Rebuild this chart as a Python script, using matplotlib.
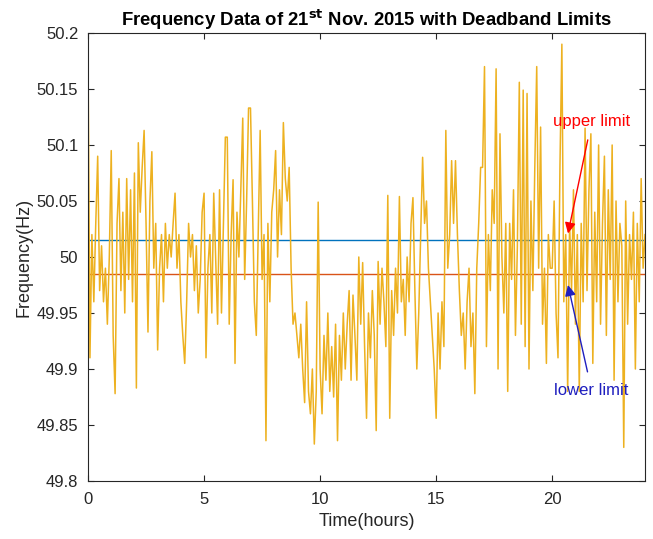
import numpy as np
import matplotlib
matplotlib.use("Agg")
import matplotlib.pyplot as plt

# grid frequency readings, 12 samples per hour
freq_by_hour = [
    [50.18, 49.91, 50.02, 49.96, 50.03, 50.09, 49.97, 50.01, 49.96, 49.99, 49.94, 50.00],
    [50.095, 49.93, 49.878, 50.03, 50.07, 49.97, 50.04, 49.95, 50.07, 49.98, 50.06, 49.96],
    [50.075, 49.883, 50.102, 50.04, 50.08, 50.113, 50.03, 49.933, 50.05, 50.094, 49.99, 50.03],
    [49.917, 49.99, 50.02, 49.96, 50.03, 49.99, 50.02, 50.00, 50.03, 50.057, 49.99, 50.02],
    [49.96, 49.93, 49.905, 49.96, 50.03, 50.00, 50.02, 49.97, 50.01, 49.95, 49.98, 50.04],
    [50.057, 49.91, 49.99, 50.02, 49.95, 50.057, 50.00, 49.94, 50.06, 49.95, 50.03, 50.107],
    [50.107, 49.94, 50.02, 50.069, 49.905, 50.04, 50.00, 50.06, 50.124, 49.98, 50.05, 50.133],
    [50.133, 50.05, 49.96, 49.93, 50.02, 50.113, 49.98, 50.02, 49.836, 50.03, 49.96, 50.04],
    [50.06, 50.095, 50.00, 50.06, 50.02, 50.12, 50.07, 50.05, 50.08, 49.99, 49.94, 49.95],
    [49.93, 49.91, 49.94, 49.90, 49.87, 49.96, 49.88, 49.86, 49.90, 49.833, 49.88, 50.049],
    [49.90, 49.86, 49.93, 49.89, 49.95, 49.88, 49.92, 49.875, 49.94, 49.836, 49.93, 49.89],
    [49.95, 49.90, 49.94, 49.97, 49.89, 49.966, 49.93, 49.89, 50.00, 49.94, 49.995, 49.92],
    [49.856, 49.95, 49.91, 49.97, 49.93, 49.845, 49.996, 49.94, 49.99, 49.96, 49.92, 50.055],
    [49.856, 49.97, 49.93, 49.99, 49.95, 50.054, 49.96, 49.98, 49.93, 50.00, 49.96, 50.03],
    [50.053, 49.97, 49.90, 49.95, 50.02, 50.089, 50.03, 50.05, 49.99, 49.96, 49.93, 49.90],
    [49.856, 49.95, 49.90, 49.96, 49.92, 50.113, 49.99, 50.02, 50.086, 50.03, 50.086, 50.02],
    [49.97, 49.93, 49.95, 49.90, 49.96, 49.99, 49.92, 49.95, 49.878, 49.99, 50.03, 50.08],
    [50.08, 50.17, 49.92, 50.02, 49.97, 50.06, 50.03, 50.168, 49.90, 50.11, 50.00, 49.95],
    [50.03, 49.88, 50.03, 49.98, 50.06, 49.93, 50.01, 50.156, 49.94, 50.149, 49.92, 50.146],
    [49.90, 50.05, 49.97, 50.08, 50.17, 49.99, 50.116, 49.94, 49.99, 49.905, 50.02, 49.99],
    [49.99, 50.05, 49.95, 49.91, 50.08, 50.19, 49.96, 50.02, 49.88, 50.03, 49.97, 50.06],
    [49.94, 50.02, 49.88, 50.03, 49.96, 50.115, 49.97, 50.06, 50.11, 49.905, 50.04, 49.96],
    [50.10, 49.94, 50.03, 50.09, 49.93, 50.06, 49.98, 50.10, 49.89, 50.05, 49.96, 50.03],
    [50.01, 49.83, 50.05, 49.94, 50.02, 49.98, 50.04, 49.90, 50.03, 49.96, 50.07, 49.99],
]
freq_end = 50.02
samples_per_hour = 12

upper_limit = 50.015
lower_limit = 49.985

y_ticks = [49.8, 49.85, 49.9, 49.95, 50, 50.05, 50.1, 50.15, 50.2]
x_ticks = [0, 5, 10, 15, 20]

freq = np.array([v for row in freq_by_hour for v in row] + [freq_end])
hours = np.arange(len(freq)) / samples_per_hour

plt.rcParams['font.family'] = ['Liberation Sans', 'DejaVu Sans']

fig = plt.figure(figsize=(6.53, 5.39), dpi=100)
ax = fig.add_axes([0.1348, 0.1076, 0.853, 0.8312])

ax.plot([0, 24], [upper_limit, upper_limit], color='#0072BD', lw=1.0)
ax.plot([0, 24], [lower_limit, lower_limit], color='#D95319', lw=1.0)
ax.plot(hours, freq, color='#EDB120', lw=1.1)

ax.set_xlim(0, 24)
ax.set_ylim(49.8, 50.2)
ax.set_xticks(x_ticks)
ax.set_yticks(y_ticks)
ax.set_yticklabels(['%g' % t for t in y_ticks])
ax.tick_params(direction='in', top=True, right=True, labelsize=12,
               colors='#262626', length=4, width=0.8)
ax.tick_params(axis='y', pad=7)
ax.tick_params(axis='x', pad=8)
for s in ax.spines.values():
    s.set_color('#262626')
    s.set_linewidth(0.8)

ax.set_xlabel('Time(hours)', fontsize=13, color='#262626', labelpad=4)
ax.set_ylabel('Frequency(Hz)', fontsize=13, color='#262626', labelpad=3)
ax.set_title('Frequency Data of 21$^{\\mathbf{st}}$ Nov. 2015 with Deadband Limits',
             fontsize=13.3, fontweight='bold', pad=5)

ax.annotate('upper limit', xy=(20.68, 50.021), xytext=(21.7, 50.121),
            color='red', fontsize=12, ha='center', va='center',
            arrowprops=dict(arrowstyle='-|>', color='red', lw=1.0,
                            mutation_scale=16, shrinkA=6, shrinkB=0))
ax.annotate('lower limit', xy=(20.68, 49.975), xytext=(21.7, 49.881),
            color='#1f1fbf', fontsize=12, ha='center', va='center',
            arrowprops=dict(arrowstyle='-|>', color='#1f1fbf', lw=1.0,
                            mutation_scale=16, shrinkA=6, shrinkB=0))

fig.savefig('out.png', dpi=100)
